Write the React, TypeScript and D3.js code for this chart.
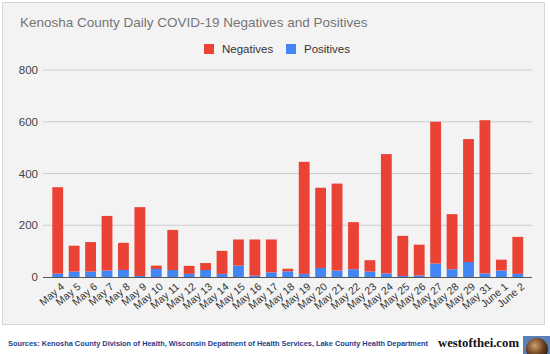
import React from "react";
import * as d3 from "d3";

const categories = ["May 4","May 5","May 6","May 7","May 8","May 9","May 10","May 11","May 12","May 13","May 14","May 15","May 16","May 17","May 18","May 19","May 20","May 21","May 22","May 23","May 24","May 25","May 26","May 27","May 28","May 29","May 31","June 1","June 2"];
const positives = [13,21,21,25,27,4,31,27,12,27,12,44,5,18,22,12,35,25,30,21,14,4,6,52,30,58,14,25,12];
const totals = [347,121,135,236,132,270,44,182,43,54,101,145,145,145,32,445,345,361,212,65,475,159,125,600,243,533,606,67,155];
const negatives = totals.map((t, i) => t - positives[i]);
const yTicks = [0, 200, 400, 600, 800];

const RED = "#ea4335";
const BLUE = "#4285f4";

export default function App() {
  const x = d3.scaleBand<string>().domain(categories).range([46.7, 528.8]).padding(0.34);
  const y = d3.scaleLinear().domain([0, 800]).range([277, 70]);
  const stack = d3.stack<any>().keys(["pos", "neg"]);
  const rows = categories.map((c, i) => ({ cat: c, pos: positives[i], neg: negatives[i] }));
  const series = stack(rows);
  const colors: Record<string, string> = { pos: BLUE, neg: RED };
  const font = "'Liberation Sans', Arial, sans-serif";

  return (
    <svg width={550} height={354} style={{ position: "absolute", left: 0, top: 0 }} fontFamily={font}>
      <rect x={0} y={0} width={550} height={354} fill="#ffffff" />
      <rect x={2.5} y={2.5} width={542} height={322} fill="#f3f3f3" stroke="#d6d6d6" strokeWidth={1} />
      <text x={20} y={27} fontSize={13.5} fill="#757575">Kenosha County Daily COVID-19 Negatives and Positives</text>
      <rect x={204} y={44} width={10} height={10} fill={RED} />
      <text x={222} y={53} fontSize={11.5} fill="#333">Negatives</text>
      <rect x={286} y={44} width={10} height={10} fill={BLUE} />
      <text x={304} y={53} fontSize={11.5} fill="#333">Positives</text>
      {yTicks.map((t) => (
        <g key={t}>
          {t !== 0 && <line x1={43} x2={532} y1={y(t)} y2={y(t)} stroke="#cccccc" strokeWidth={1} />}
          <text x={38} y={y(t)} dy="0.35em" textAnchor="end" fontSize={11.5} fill="#444">{t}</text>
        </g>
      ))}
      {series.map((s) => (
        <g key={s.key} fill={colors[s.key]}>
          {s.map((d: any, i: number) => (
            <rect key={i} x={x(d.data.cat)} y={y(d[1])} width={x.bandwidth()} height={Math.max(0, y(d[0]) - y(d[1]))} />
          ))}
        </g>
      ))}
      <line x1={43} x2={532} y1={277.5} y2={277.5} stroke="#555" strokeWidth={1} />
      {categories.map((c) => (
        <text key={c} transform={`translate(${(x(c) as number) + x.bandwidth() / 2 + 5},${285}) rotate(-40)`} textAnchor="end" fontSize={10.5} fill="#333" dy="0.35em">{c}</text>
      ))}
      <text x={8} y={346} fontSize={7} fontWeight="bold" fill="#1f3d8a" textLength={420} lengthAdjust="spacingAndGlyphs">Sources: Kenosha County Division of Health, Wisconsin Depatment of Health Services, Lake County Health Department</text>
      <text x={438} y={347} fontSize={13} fontWeight="bold" fill="#111" fontFamily="'Liberation Serif', serif" textLength={81} lengthAdjust="spacingAndGlyphs">westofthei.com</text>
      <defs>
        <radialGradient id="ball" cx="0.4" cy="0.35" r="0.7">
          <stop offset="0" stopColor="#d0a070" />
          <stop offset="0.6" stopColor="#6a3e1e" />
          <stop offset="1" stopColor="#2a1a10" />
        </radialGradient>
      </defs>
      <rect x={523} y={336} width={27} height={18} fill="#5b7fb8" />
      <circle cx={537} cy={349} r={11} fill="url(#ball)" />
    </svg>
  );
}
